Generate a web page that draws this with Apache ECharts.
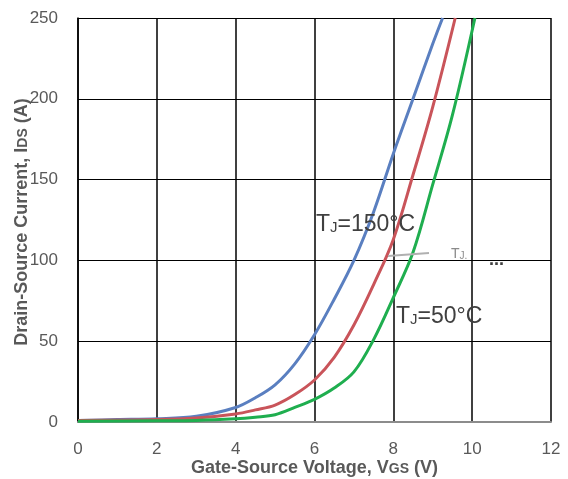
<!DOCTYPE html>
<html>
<head>
<meta charset="utf-8">
<script src="https://cdn.jsdelivr.net/npm/echarts@6/dist/echarts.min.js"></script>
<style>
  html, body { margin: 0; padding: 0; background: #fff; overflow: hidden; }
  #chart { width: 568px; height: 479px; }
</style>
</head>
<body>
<div id="chart"></div>
<script>
// Transfer characteristics: drain current vs gate-source voltage at three junction temperatures
const xTicks = [0, 2, 4, 6, 8, 10, 12];
const yTicks = [0, 50, 100, 150, 200, 250];

const vgs150 = [0, 1, 2, 3, 4, 4.5, 5, 5.5, 6, 6.5, 7, 7.5, 8, 8.5, 9, 9.25];
const ids150 = [1, 1.5, 2, 3.5, 9, 15, 23, 36, 54, 76, 100, 130, 166, 200, 234, 250];

const vgs100 = [0, 2, 3, 4, 4.5, 5, 5.5, 6, 6.5, 7, 7.5, 8, 8.5, 9, 9.57];
const ids100 = [1, 1.5, 2.5, 5, 7.5, 10.5, 17, 26, 40, 60, 85, 113, 153, 195, 250];

const vgs50 = [0, 2, 3, 4, 4.5, 5, 5.5, 6, 6.5, 7, 7.5, 8, 8.5, 9, 9.5, 10.07];
const ids50 = [0.5, 0.8, 1, 2, 3, 4.5, 9, 14, 21, 31, 51, 77, 105, 147, 190, 250];

const pair = (xs, ys) => xs.map((x, i) => [x, ys[i]]);

const FONT = '"Liberation Sans", Arial, sans-serif';
const GREY = '#595959';

const chart = echarts.init(document.getElementById('chart'), null, { renderer: 'canvas', width: 568, height: 479 });

function lineSeries(name, xs, ys, color) {
  return {
    name: name,
    type: 'line',
    data: pair(xs, ys),
    smooth: 0.35,
    symbol: 'none',
    lineStyle: { color: color, width: 3 },
    z: 3
  };
}

chart.setOption({
  animation: false,
  grid: { left: 78, width: 473, top: 18, height: 404, containLabel: false, outerBoundsMode: 'none' },
  xAxis: {
    type: 'value',
    min: 0, max: 12, interval: 2,
    name: '{b|Gate-Source Voltage, V}{s|GS}{b| (V)}',
    nameLocation: 'middle',
    nameGap: 37,
    nameMoveOverlap: false,
    nameTextStyle: {
      rich: {
        b: { fontFamily: FONT, fontWeight: 'bold', fontSize: 18, color: GREY },
        s: { fontFamily: FONT, fontWeight: 'bold', fontSize: 14, color: GREY, padding: [3, 0, 0, 0] }
      }
    },
    axisLine: { show: true, lineStyle: { color: '#8c8c8c', width: 2 } },
    axisTick: { show: false },
    axisLabel: { fontFamily: FONT, fontSize: 17, color: GREY, margin: 19 },
    splitLine: { show: true, lineStyle: { color: '#000', width: 1.5 } }
  },
  yAxis: {
    type: 'value',
    min: 0, max: 250, interval: 50,
    axisLine: { show: true, lineStyle: { color: '#000', width: 1.5 } },
    axisTick: { show: false },
    axisLabel: { fontFamily: FONT, fontSize: 17, color: GREY, margin: 20 },
    splitLine: { show: true, lineStyle: { color: '#000', width: 1 } }
  },
  series: [
    lineSeries('TJ=150°C', vgs150, ids150, '#5a7fc0'),
    lineSeries('TJ=100°C', vgs100, ids100, '#c9545a'),
    lineSeries('TJ=50°C', vgs50, ids50, '#1fae4f')
  ],
  graphic: [
    {
      type: 'text', x: 22, y: 222, rotation: Math.PI / 2, z: 10,
      style: {
        text: '{b|Drain-Source Current, I}{s|DS}{b| (A)}',
        align: 'center', verticalAlign: 'middle',
        rich: {
          b: { fontFamily: FONT, fontWeight: 'bold', fontSize: 18, fill: GREY },
          s: { fontFamily: FONT, fontWeight: 'bold', fontSize: 14, fill: GREY, padding: [3, 0, 0, 0] }
        }
      }
    },
    {
      type: 'text', x: 316, y: 213, z: 10,
      style: {
        text: '{a|T}{j|J}{a|=150°C}',
        rich: {
          a: { fontFamily: FONT, fontSize: 23, fill: '#404040' },
          j: { fontFamily: FONT, fontSize: 15, fill: '#404040', padding: [6, 0, 0, 0] }
        }
      }
    },
    {
      type: 'text', x: 396, y: 305, z: 10,
      style: {
        text: '{a|T}{j|J}{a|=50°C}',
        rich: {
          a: { fontFamily: FONT, fontSize: 23, fill: '#404040' },
          j: { fontFamily: FONT, fontSize: 15, fill: '#404040', padding: [6, 0, 0, 0] }
        }
      }
    },
    {
      type: 'line', z: 10,
      shape: { x1: 388, y1: 256, x2: 429, y2: 253 },
      style: { stroke: '#b0b0b0', lineWidth: 2 }
    },
    {
      type: 'text', x: 451, y: 247, z: 10,
      style: {
        text: '{a|T}{j|J.}',
        rich: {
          a: { fontFamily: FONT, fontSize: 14, fill: '#8a8a8a' },
          j: { fontFamily: FONT, fontSize: 10, fill: '#8a8a8a', padding: [4, 0, 0, 0] }
        }
      }
    },
    {
      type: 'text', x: 489, y: 251, z: 10,
      style: { text: '...', fontFamily: FONT, fontSize: 18, fontWeight: 'bold', fill: '#404040' }
    }
  ]
});
</script>
</body>
</html>
